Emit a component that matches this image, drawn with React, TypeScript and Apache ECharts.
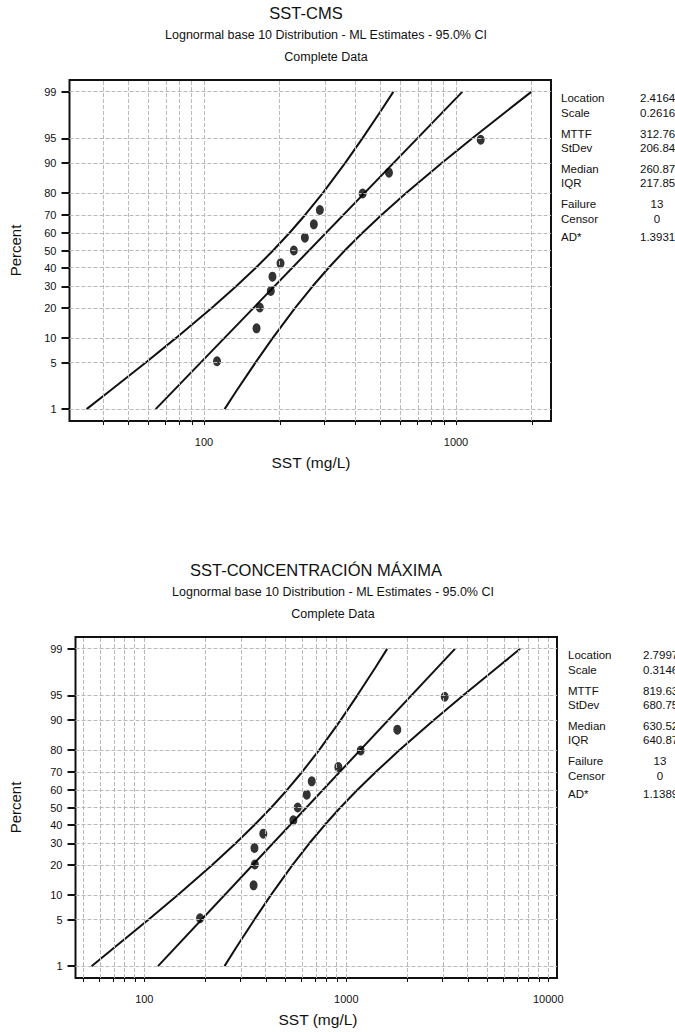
import React, { useEffect, useRef } from "react";
import * as echarts from "echarts";

// ---------- data ----------
const PCT_TICKS = [1, 5, 10, 20, 30, 40, 50, 60, 70, 80, 90, 95, 99];
const RANKS = [5.22, 12.69, 20.15, 27.61, 35.07, 42.54, 50, 57.46, 64.93, 72.39, 79.85, 87.31, 94.78];
const STAT_LABELS = ["Location", "Scale", "MTTF", "StDev", "Median", "IQR", "Failure", "Censor", "AD*"];

// SST-CMS
const CMS_SST = [112.6, 161.6, 166.5, 184.1, 186.9, 201.2, 227.2, 251.3, 272.8, 288.2, 426, 541.9, 1253];
const CMS_FIT = [[64.3, 1], [1059, 99]];
const CMS_UPPER = [[34.2, 1], [42.5, 2], [58.6, 5], [77.5, 10], [107.3, 20], [134.2, 30], [160.6, 40], [188, 50], [217.8, 60], [252.3, 70], [295.9, 80], [362.9, 90], [425.2, 95], [504.6, 98], [563.8, 99]];
const CMS_LOWER = [[120.7, 1], [134.8, 2], [160, 5], [187.5, 10], [230, 20], [269.7, 30], [312.4, 40], [361.9, 50], [423.8, 60], [507.4, 70], [634, 80], [878.3, 90], [1161, 95], [1601, 98], [1989, 99]];
const CMS_GRID_X = [40, 50, 60, 70, 80, 90, 100, 200, 300, 400, 500, 600, 700, 800, 900, 1000, 2000];
const CMS_X_LABELS = [100, 1000];
const CMS_STATS = ["2.4164", "0.2616", "312.76", "206.84", "260.87", "217.85", "13", "0", "1.3931"];

// SST-CONCENTRACIÓN MÁXIMA
const MAX_SST = [188.7, 347.5, 352.5, 351, 388.1, 546.6, 574.5, 636.8, 674.3, 912.8, 1178, 1788, 3070];
const MAX_FIT = [[116.9, 1], [3451, 99]];
const MAX_UPPER = [[54.8, 1], [71.1, 2], [104.7, 5], [146.5, 10], [216.7, 20], [283.4, 30], [351.8, 40], [425.3, 50], [507.7, 60], [605.8, 70], [733.7, 80], [937.7, 90], [1134, 95], [1394, 98], [1593, 99]];
const MAX_LOWER = [[249.5, 1], [285.1, 2], [350.4, 5], [424, 10], [541.9, 20], [656.3, 30], [783.1, 40], [934.8, 50], [1130, 60], [1403, 70], [1834, 80], [2715, 90], [3797, 95], [5590, 98], [7255, 99]];
const MAX_GRID_X = [50, 60, 70, 80, 90, 100, 200, 300, 400, 500, 600, 700, 800, 900, 1000, 2000, 3000, 4000, 5000, 6000, 7000, 8000, 9000, 10000];
const MAX_X_LABELS = [100, 1000, 10000];
const MAX_STATS = ["2.7997", "0.3146", "819.63", "680.75", "630.52", "640.87", "13", "0", "1.1389"];

// ---------- scale helpers ----------
function probit(p: number): number {
  const a = [-3.969683028665376e1, 2.209460984245205e2, -2.759285104469687e2, 1.38357751867269e2, -3.066479806614716e1, 2.506628277459239];
  const b = [-5.447609879822406e1, 1.615858368580409e2, -1.556989798598866e2, 6.680131188771972e1, -1.328068155288572e1];
  const c = [-7.784894002430293e-3, -3.223964580411365e-1, -2.400758277161838, -2.549732539343734, 4.374664141464968, 2.938163982698783];
  const d = [7.784695709041462e-3, 3.224671290700398e-1, 2.445134137142996, 3.754408661907416];
  const pl = 0.02425;
  if (p < pl) {
    const q = Math.sqrt(-2 * Math.log(p));
    return (((((c[0] * q + c[1]) * q + c[2]) * q + c[3]) * q + c[4]) * q + c[5]) / ((((d[0] * q + d[1]) * q + d[2]) * q + d[3]) * q + 1);
  }
  if (p <= 1 - pl) {
    const q = p - 0.5, r = q * q;
    return ((((((a[0] * r + a[1]) * r + a[2]) * r + a[3]) * r + a[4]) * r + a[5]) * q) / (((((b[0] * r + b[1]) * r + b[2]) * r + b[3]) * r + b[4]) * r + 1);
  }
  const q = Math.sqrt(-2 * Math.log(1 - p));
  return -(((((c[0] * q + c[1]) * q + c[2]) * q + c[3]) * q + c[4]) * q + c[5]) / ((((d[0] * q + d[1]) * q + d[2]) * q + d[3]) * q + 1);
}
const zp = (pct: number) => probit(pct / 100);
const lx = (v: number) => Math.log10(v);
const toXY = (pts: number[][]) => pts.map(([x, p]) => [lx(x), zp(p)]);

const FONT = "'Liberation Sans', Arial, Helvetica, sans-serif";
const INK = "#111";

function buildPanel(idx: number, cfg: any) {
  const grid = { left: cfg.left, top: cfg.top, width: cfg.width, height: cfg.height, show: true, borderColor: INK, borderWidth: 2, backgroundColor: "#fff" };
  const xAxis = {
    type: "value", gridIndex: idx, min: cfg.xmin, max: cfg.xmax,
    splitLine: { show: false }, axisLine: { show: false, onZero: false },
    axisTick: { show: true, customValues: cfg.gridX.map(lx), length: 4, lineStyle: { color: INK, width: 1 } },
    axisLabel: { customValues: cfg.xLabels.map(lx), formatter: (v: number) => String(Math.round(Math.pow(10, v))), fontSize: 11, fontFamily: FONT, color: INK, margin: 15 },
  };
  const zTicks = PCT_TICKS.map(zp);
  const yAxis = {
    type: "value", gridIndex: idx, min: -2.5, max: 2.5,
    splitLine: { show: false }, axisLine: { show: false, onZero: false },
    axisTick: { show: true, customValues: zTicks, length: 8, lineStyle: { color: INK, width: 2 } },
    axisLabel: {
      customValues: zTicks,
      formatter: (v: number) => {
        const i = zTicks.findIndex((t) => Math.abs(t - v) < 1e-6);
        return i >= 0 ? String(PCT_TICKS[i]) : "";
      },
      fontSize: 11, fontFamily: FONT, color: INK, margin: 13,
    },
  };
  const lineBase = { type: "line", xAxisIndex: idx, yAxisIndex: idx, showSymbol: false, symbol: "none", z: 3, lineStyle: { color: INK, width: 2 }, silent: true };
  const series = [
    {
      type: "line", xAxisIndex: idx, yAxisIndex: idx, data: [], showSymbol: false, z: 1, silent: true,
      markLine: {
        silent: true, symbol: ["none", "none"], label: { show: false }, animation: false,
        lineStyle: { type: [4, 2], color: "#b9b9bd", width: 1 },
        data: [...cfg.gridX.map((v: number) => ({ xAxis: lx(v) })), ...PCT_TICKS.map((p) => ({ yAxis: zp(p) }))],
      },
    },
    { ...lineBase, data: toXY(cfg.upper) },
    { ...lineBase, data: toXY(cfg.fit) },
    { ...lineBase, data: toXY(cfg.lower) },
    {
      type: "scatter", xAxisIndex: idx, yAxisIndex: idx, z: 4, symbol: "circle", symbolSize: [8, 10],
      itemStyle: { color: "#000" }, data: RANKS.map((p, i) => [lx(cfg.sst[i]), zp(p)]),
    },
  ];
  const t = (text: string, x: number, y: number, size: number, align = "center", extra: any = {}) => ({
    type: "text", x, y, ...extra,
    style: { text, fontSize: size, fontFamily: FONT, fill: INK, align, verticalAlign: "middle" },
  });
  const top = cfg.top;
  const graphics: any[] = [
    t(cfg.title, cfg.titleX, top - 67.5, 16.5),
    t("Lognormal base 10 Distribution - ML Estimates - 95.0% CI", cfg.subX, top - 45.5, 12.5),
    t("Complete Data", cfg.subX, top - 22.7, 12.5),
    t("SST (mg/L)", cfg.axisTitleX, top + cfg.height + 41, 15.5),
    t("Percent", 15, top + cfg.height / 2, 15, "center", { rotation: Math.PI / 2 }),
  ];
  const offs = [17.7, 33.3, 53.5, 68, 88.5, 103.3, 123.5, 138.7, 157];
  STAT_LABELS.forEach((lab, i) => {
    const y = top + offs[i];
    graphics.push(t(lab, cfg.statX, y, 11.5, "left"));
    const val = cfg.stats[i];
    if (i === 6 || i === 7) graphics.push(t(val, cfg.valX + 17, y, 11.5, "center"));
    else graphics.push(t(val, cfg.valX, y, 11.5, "left"));
  });
  return { grid, xAxis, yAxis, series, graphics };
}

export default function App() {
  const ref = useRef<HTMLDivElement>(null);
  useEffect(() => {
    if (!ref.current) return;
    const chart = echarts.init(ref.current, undefined, { renderer: "svg" });
    const p0 = buildPanel(0, {
      left: 69.5, top: 80, width: 481.5, height: 341, xmin: 1.4663, xmax: 3.377,
      gridX: CMS_GRID_X, xLabels: CMS_X_LABELS, sst: CMS_SST, fit: CMS_FIT, upper: CMS_UPPER, lower: CMS_LOWER,
      title: "SST-CMS", titleX: 306, subX: 326, axisTitleX: 311, stats: CMS_STATS, statX: 561, valX: 640,
    });
    const p1 = buildPanel(1, {
      left: 75.5, top: 637, width: 481.5, height: 341, xmin: 1.6594, xmax: 4.0431,
      gridX: MAX_GRID_X, xLabels: MAX_X_LABELS, sst: MAX_SST, fit: MAX_FIT, upper: MAX_UPPER, lower: MAX_LOWER,
      title: "SST-CONCENTRACIÓN MÁXIMA", titleX: 316, subX: 333, axisTitleX: 318, stats: MAX_STATS, statX: 568, valX: 643,
    });
    chart.setOption({
      animation: false,
      backgroundColor: "#fff",
      grid: [p0.grid, p1.grid],
      xAxis: [p0.xAxis, p1.xAxis],
      yAxis: [p0.yAxis, p1.yAxis],
      series: [...p0.series, ...p1.series],
      graphic: [...p0.graphics, ...p1.graphics],
    } as any);
    return () => chart.dispose();
  }, []);
  return <div ref={ref} style={{ position: "absolute", left: 0, top: 0, width: 675, height: 1032, background: "#fff" }} />;
}
